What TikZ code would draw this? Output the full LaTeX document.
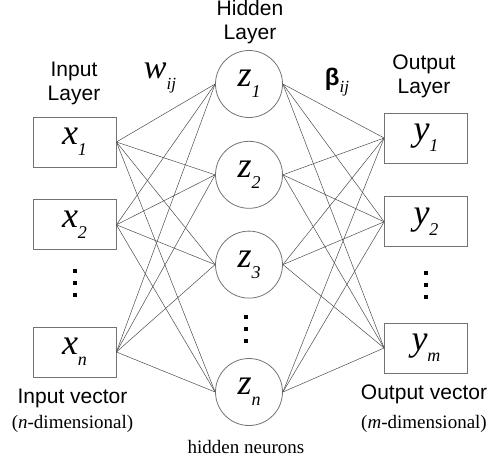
\documentclass[tikz,border=0pt]{standalone}
\usepackage{fontspec}
\setmainfont{Liberation Serif}
\setsansfont{Liberation Sans}
\usetikzlibrary{positioning}

\newcommand{\nvar}[2]{{\rmfamily\itshape\fontsize{36}{36}\selectfont #1\raisebox{-0.3em}{\fontsize{18}{18}\selectfont #2}}}

\begin{document}
\begin{tikzpicture}[x=1pt, y=-1pt, font=\sffamily\fontsize{21}{24}\selectfont]
  % Styles
  \tikzset{
    unit/.style={rectangle, draw=black!55, line width=0.8pt, minimum width=83pt, minimum height=50pt, inner sep=0pt},
    neuron/.style={circle, draw=black!55, line width=0.8pt, minimum size=67pt, inner sep=0pt},
    link/.style={draw=black!70, line width=0.5pt},
    dot/.style={rectangle, fill=black, minimum size=4pt, inner sep=0pt},
    caption/.style={align=center, inner sep=0pt},
    dim/.style={inner sep=0pt, font=\rmfamily\fontsize{19}{22}\selectfont}
  }
  \useasboundingbox (0,0) rectangle (502,459);

  % Input layer
  \node[unit] (x1) at (74.5,142) {\nvar{x}{1}};
  \node[unit, below=32pt of x1] (x2) {\nvar{x}{2}};
  \node[unit] (xn) at (74.5,352) {\nvar{x}{n}};
  \foreach \y [count=\i] in {271,283,295}
    \node[dot] (xd\i) at (74.5,\y) {};

  % Hidden layer
  \node[neuron] (z1) at (249,84) {\nvar{z}{1}};
  \node[neuron, below=23pt of z1] (z2) {\nvar{z}{2}};
  \node[neuron, below=22pt of z2] (z3) {\nvar{z}{3}};
  \node[neuron] (zn) at (249,392) {\nvar{z}{n}};
  \foreach \y [count=\i] in {317,329,341}
    \node[dot] (zd\i) at (246,\y) {};

  % Output layer
  \node[unit] (y1) at (426,138) {\nvar{y}{1}};
  \node[unit, below=33pt of y1] (y2) {\nvar{y}{2}};
  \node[unit] (ym) at (426,348) {\nvar{y}{m}};
  \foreach \y [count=\i] in {273,285,297}
    \node[dot] (yd\i) at (426,\y) {};

  % Connections
  \foreach \a in {x1,x2,xn}
    \foreach \b in {z1,z2,z3,zn}
      \draw[link] (\a.east) -- (\b.west);
  \foreach \a in {z1,z2,z3,zn}
    \foreach \b in {y1,y2,ym}
      \draw[link] (\a.east) -- (\b.west);

  % Labels
  \node[caption] (inlayer) at (74,83) {Input\\Layer};
  \node[caption] (hidlayer) at (250,22) {Hidden\\Layer};
  \node[caption] (outlayer) at (424,76) {Output\\Layer};
  \node[inner sep=0pt] (wij) at (160,78)
    {\rmfamily\itshape\fontsize{34}{34}\selectfont w\raisebox{-0.3em}{\fontsize{17}{17}\selectfont ij}};
  \node[inner sep=0pt] (bij) at (337,82)
    {{\bfseries\fontsize{24}{24}\selectfont β}\raisebox{-0.35em}{\rmfamily\itshape\fontsize{17}{17}\selectfont ij}};

  \node[inner sep=0pt] (invec) at (72.5,398) {Input vector};
  \node[dim] (indim) at (72.5,424) {(\textit{n}-dimensional)};
  \node[inner sep=0pt] (outvec) at (424,394) {Output vector};
  \node[dim] (outdim) at (424,424) {(\textit{m}-dimensional)};
  \node[dim] (hidneur) at (246,447) {hidden neurons};
\end{tikzpicture}
\end{document}
